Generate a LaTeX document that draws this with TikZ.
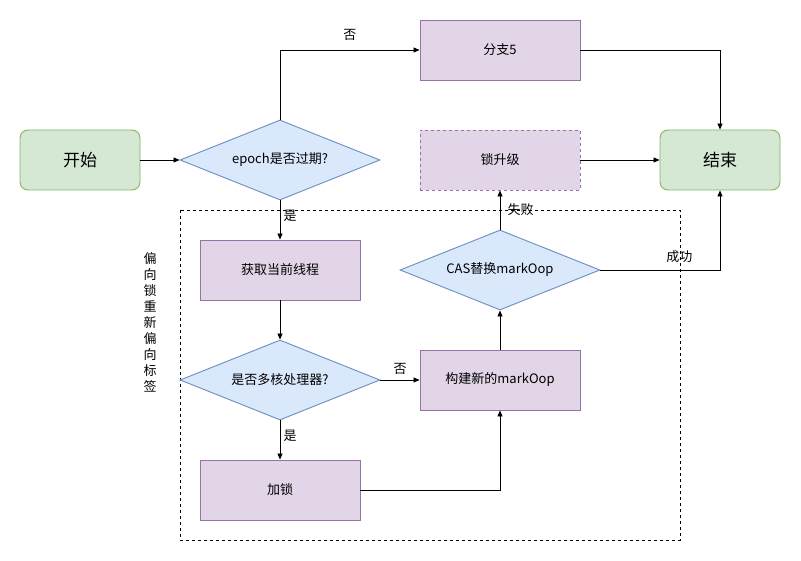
\documentclass[tikz,border=0pt]{standalone}
\usepackage{fontspec}
\setmainfont{Noto Sans CJK SC}
\usetikzlibrary{shapes.geometric,arrows.meta}
\definecolor{gf}{HTML}{D5E8D4}\definecolor{gd}{HTML}{82B366}
\definecolor{bf}{HTML}{DAE8FC}\definecolor{bd}{HTML}{6C8EBF}
\definecolor{pf}{HTML}{E1D5E7}\definecolor{pd}{HTML}{9673A6}
\tikzset{
 term/.style={draw=gd,fill=gf,rounded corners=8pt,minimum width=120pt,minimum height=60pt,font=\fontsize{17}{20}\selectfont,line width=0.9pt},
 proc/.style={draw=pd,fill=pf,minimum width=160pt,minimum height=60pt,font=\fontsize{13}{16}\selectfont,line width=0.9pt},
 dec/.style={draw=bd,fill=bf,diamond,aspect=2.5,inner sep=0pt,font=\fontsize{13}{16}\selectfont,line width=0.9pt},
 arr/.style={-{Triangle[length=6pt,width=5pt]},line width=0.8pt},
 lbl/.style={font=\fontsize{13}{16}\selectfont}
}
\begin{document}
\begin{tikzpicture}[x=1pt,y=-1pt]
\useasboundingbox (0,0) rectangle (801,561);
\draw[dashed,line width=0.7pt] (180,210) rectangle (680,540);
\node[term] (start) at (80,160) {开始};
\node[term] (end) at (720,160) {结束};
\node[dec,minimum width=200pt,minimum height=80pt] (epoch) at (280,160) {epoch是否过期?};
\node[proc] (b5) at (500,50) {分支5};
\node[proc,dashed] (up) at (500,160) {锁升级};
\node[proc] (get) at (280,270) {获取当前线程};
\node[dec,minimum width=200pt,minimum height=80pt] (multi) at (280,380) {是否多核处理器?};
\node[proc] (build) at (500,380) {构建新的markOop};
\node[dec,minimum width=200pt,minimum height=80pt] (cas) at (500,270) {CAS替换markOop};
\node[proc] (lock) at (280,490) {加锁};
\node[lbl,align=center,text width=14pt,inner sep=0pt] (vl) at (150,322) {偏\\向\\锁\\重\\新\\偏\\向\\标\\签};
\draw[arr] (start) -- (epoch);
\draw[arr] (epoch.north) |- (b5.west) node[lbl,pos=0.75,above=6pt] {否};
\draw[arr] (b5.east) -| (end.north);
\draw[arr] (epoch.south) -- (get.north) node[lbl,pos=0.4,right] {是};
\draw[arr] (up) -- (end);
\draw[arr] (get) -- (multi);
\draw[arr] (multi.east) -- (build.west) node[lbl,pos=0.5,above=2pt] {否};
\draw[arr] (multi.south) -- (lock.north) node[lbl,pos=0.4,right] {是};
\draw[arr] (lock.east) -| (build.south);
\draw[arr] (build) -- (cas);
\draw[arr] (cas.north) -- (up.south) node[lbl,pos=0.5,right=4pt] {失败};
\draw[arr] (cas.east) -| (end.south) node[lbl,pos=0.33,above=4pt] {成功};
\end{tikzpicture}
\end{document}
